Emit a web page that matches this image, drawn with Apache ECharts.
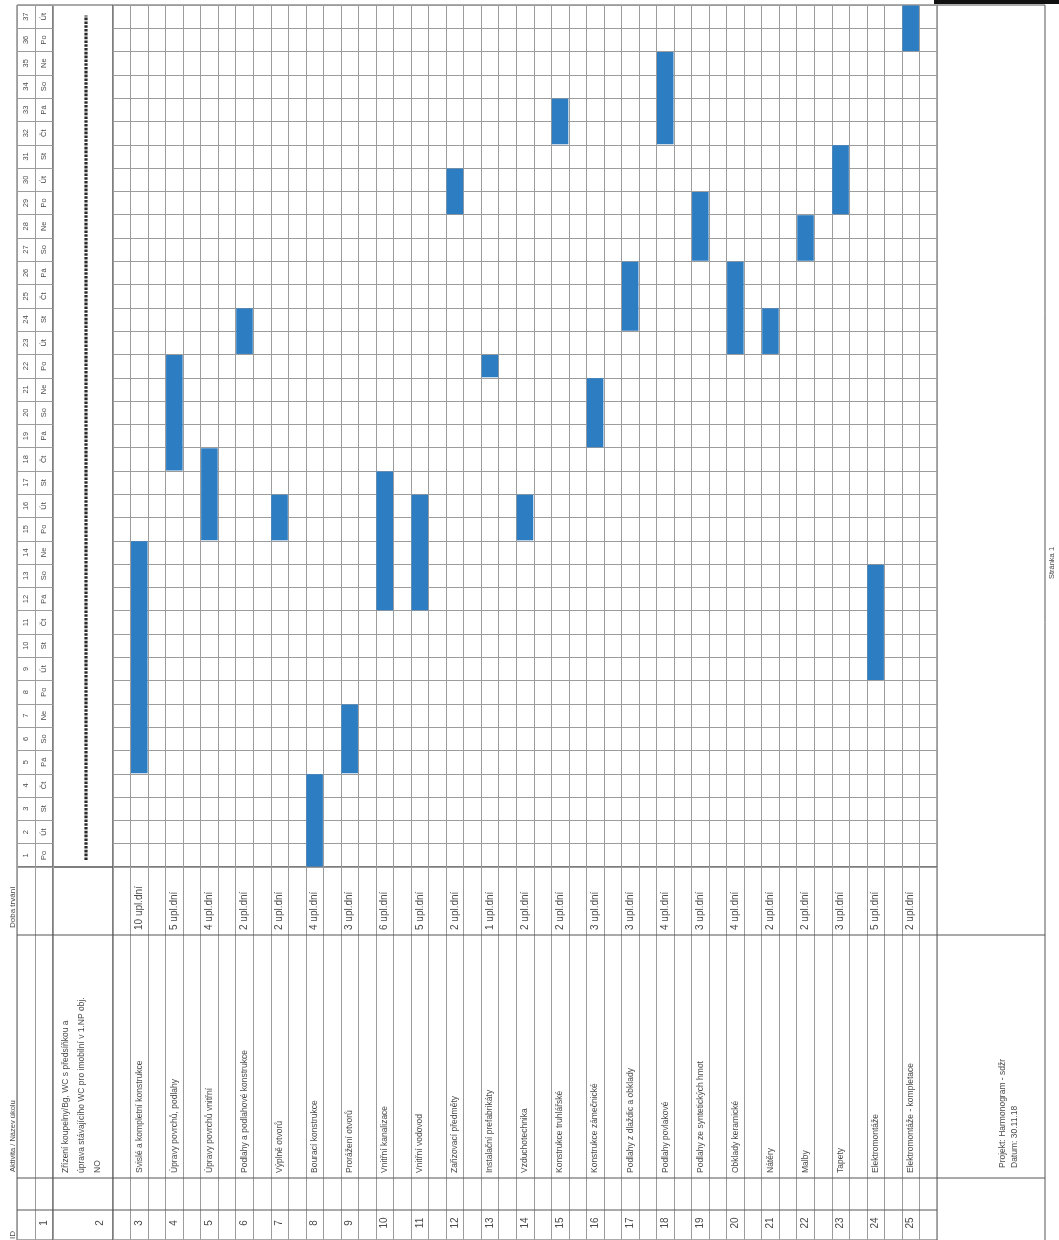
<!DOCTYPE html>
<html><head><meta charset="utf-8">
<script src="https://cdn.jsdelivr.net/npm/echarts@6/dist/echarts.min.js"></script>
<style>html,body{margin:0;padding:0;background:#fff}#c{width:1059px;height:1240px}</style>
</head><body><div id="c"></div>
<script>
// ---------- data ----------
const dayNumbers = ['1','2','3','4','5','6','7','8','9','10','11','12','13','14','15','16','17','18','19','20','21','22','23','24','25','26','27','28','29','30','31','32','33','34','35','36','37'];
const weekdays = ['Po','Út','St','Čt','Pá','So','Ne','Po','Út','St','Čt','Pá','So','Ne','Po','Út','St','Čt','Pá','So','Ne','Po','Út','St','Čt','Pá','So','Ne','Po','Út','St','Čt','Pá','So','Ne','Po','Út'];
const taskRows = [3,4,5,6,7,8,9,10,11,12,13,14,15,16,17,18,19,20,21,22,23,24,25];
const taskNames = ['Svislé a kompletní konstrukce','Úpravy povrchů, podlahy','Úpravy povrchů vnitřní','Podlahy a podlahové konstrukce','Výplně otvorů','Bourací konstrukce','Prorážení otvorů','Vnitřní kanalizace','Vnitřní vodovod','Zařizovací předměty','Instalační prefabrikáty','Vzduchotechnika','Konstrukce truhlářské','Konstrukce zámečnické','Podlahy z dlaždic a obklady','Podlahy povlakové','Podlahy ze syntetických hmot','Obklady keramické','Nátěry','Malby','Tapety','Elektromontáže','Elektromontáže - kompletace'];
const durations = ['10 upl.dní','5 upl.dní','4 upl.dní','2 upl.dní','2 upl.dní','4 upl.dní','3 upl.dní','6 upl.dní','5 upl.dní','2 upl.dní','1 upl.dní','2 upl.dní','2 upl.dní','3 upl.dní','3 upl.dní','4 upl.dní','3 upl.dní','4 upl.dní','2 upl.dní','2 upl.dní','3 upl.dní','5 upl.dní','2 upl.dní'];
const startDays = [5,18,15,23,15,1,5,12,12,29,22,15,32,19,24,32,27,23,23,27,29,9,36];
const endDays   = [14,22,18,24,16,4,7,17,16,30,22,16,33,21,26,35,29,26,24,28,31,13,37];
const summaryName = 'Zřízení koupelny/Bg, WC s předsíňkou a\núprava stávajícího WC pro imobilní v 1.NP obj.\nNO';
const summaryStart = 1, summaryEnd = 37;
const rowNumbers = ['1','2','3','4','5','6','7','8','9','10','11','12','13','14','15','16','17','18','19','20','21','22','23','24','25'];
const headerLabels = ['ID','Aktivita / Název úkolu','Doba trvání'];
const footerLines = ['Projekt: Harmonogram - sdžr','Datum: 30.11.18'];
const pageLabel = 'Stránka 1';

// ---------- layout ----------
const FONT = '"Liberation Sans", Arial, sans-serif';
const TXT = '#4a4a4a';
const GRIDC = '#9c9c9c';
const BORDER = '#555';
const BLUE = '#2d7dc3';
const top0 = 5, dayH = 862, lowTop = 867, lowH = 373;

function vAxis(gi, min, max, interval, split) {
  return {type:'value', gridIndex:gi, min:min, max:max, interval:interval,
    axisLine:{show:false}, axisTick:{show:false}, axisLabel:{show:false},
    splitLine:{show:split, lineStyle:{color:GRIDC, width:1}}};
}
const grids = [
  {left:113, top:top0, width:824, height:dayH},     // 0 main days
  {left:17,  top:top0, width:36,  height:dayH},     // 1 day header
  {left:53,  top:top0, width:60,  height:dayH},     // 2 summary row
  {left:113, top:lowTop, width:824, height:lowH},   // 3 lower rows
  {left:17,  top:lowTop, width:36,  height:lowH},   // 4 lower row 1
  {left:53,  top:lowTop, width:60,  height:lowH}    // 5 lower row 2
].map(g => Object.assign(g, {show:true, borderColor:BORDER, borderWidth:1, backgroundColor:'transparent'}));

const xAxes = [
  vAxis(0, 2.5, 26, 0.5, true),
  vAxis(1, 0, 2, 1, true),
  vAxis(2, 0, 1, 1, false),
  vAxis(3, 2.5, 26, 0.5, true),
  vAxis(4, 0, 2, 1, true),
  vAxis(5, 0, 1, 1, false)
];
const yAxes = [
  vAxis(0, 0, 37, 1, true),
  vAxis(1, 0, 37, 1, true),
  vAxis(2, 0, 37, 1, false),
  Object.assign(vAxis(3, 0, lowH, lowH, false), {inverse:true}),
  Object.assign(vAxis(4, 0, lowH, lowH, false), {inverse:true}),
  Object.assign(vAxis(5, 0, lowH, lowH, false), {inverse:true})
];

function textSeries(gi, data, texts, opts) {
  return {
    type:'custom', coordinateSystem:'cartesian2d', xAxisIndex:gi, yAxisIndex:gi,
    silent:true, clip:false, data:data, z:5,
    renderItem:function(params, api){
      const p = api.coord([api.value(0), api.value(1)]);
      return {type:'text', x:p[0], y:p[1], rotation:Math.PI/2,
        style:{text:texts[params.dataIndex], font:opts.font, fill:opts.fill || TXT,
          align:opts.align, textAlign:opts.align, verticalAlign:'middle', textVerticalAlign:'middle',
          lineHeight:opts.lineHeight || undefined}};
    }
  };
}

const series = [];
// bars
series.push({
  type:'custom', coordinateSystem:'cartesian2d', xAxisIndex:0, yAxisIndex:0, silent:true, z:3,
  data: taskRows.map((r,i)=>[r, startDays[i], endDays[i]]),
  renderItem:function(params, api){
    const a = api.coord([api.value(0), api.value(1)-1]);
    const b = api.coord([api.value(0)+0.5, api.value(2)]);
    return {type:'rect', shape:{x:a[0]+0.5, y:b[1]+0.5, width:b[0]-a[0]-1, height:a[1]-b[1]-1},
      style:{fill:BLUE}};
  }
});
// summary dashed line
series.push({
  type:'custom', coordinateSystem:'cartesian2d', xAxisIndex:2, yAxisIndex:2, silent:true, z:3,
  data:[[0.55, summaryStart, summaryEnd]],
  renderItem:function(params, api){
    const a = api.coord([api.value(0), api.value(1)-1+0.3]);
    const b = api.coord([api.value(0), api.value(2)-0.45]);
    return {type:'line', shape:{x1:a[0], y1:a[1], x2:b[0], y2:b[1]},
      style:{stroke:'#2a2a2a', lineWidth:3.2, lineDash:[2.6,1.2]}};
  }
});
// day header
series.push(textSeries(1, dayNumbers.map((d,i)=>[0.5, i+0.5]), dayNumbers, {font:'7.5px '+FONT, align:'center'}));
series.push(textSeries(1, weekdays.map((d,i)=>[1.5, i+0.5]), weekdays, {font:'7.5px '+FONT, align:'center'}));
// durations
series.push(textSeries(3, taskRows.map(r=>[r+0.25, 63]), durations, {font:'10px '+FONT, align:'left'}));
// names
series.push(textSeries(3, taskRows.map(r=>[r+0.25, 306]), taskNames, {font:'8.5px '+FONT, align:'left'}));
series.push(textSeries(5, [[0.47, 306]], [summaryName], {font:'8.5px '+FONT, align:'left', lineHeight:16}));
// row numbers
series.push(textSeries(3, taskRows.map(r=>[r+0.25, 356]), rowNumbers.slice(2), {font:'10px '+FONT, align:'center'}));
series.push(textSeries(4, [[1.5, 356]], [rowNumbers[0]], {font:'10px '+FONT, align:'center'}));
series.push(textSeries(5, [[0.78, 356]], [rowNumbers[1]], {font:'10px '+FONT, align:'center'}));

function hline(x1,x2,y){return {type:'line', silent:true, z:10, shape:{x1:x1,y1:y,x2:x2,y2:y}, style:{stroke:BORDER, lineWidth:1}};}
function vline(x,y1,y2){return {type:'line', silent:true, z:10, shape:{x1:x,y1:y1,x2:x,y2:y2}, style:{stroke:BORDER, lineWidth:1}};}
function rtext(x,y,t,size,align){return {type:'text', silent:true, z:10, x:x, y:y, rotation:Math.PI/2,
  style:{text:t, font:size+'px '+FONT, fill:TXT, textAlign:align, textVerticalAlign:'middle', align:align, verticalAlign:'middle'}};}

const graphic = [
  {type:'rect', silent:true, z:11, shape:{x:934, y:0, width:125, height:4}, style:{fill:'#111'}},
  hline(937, 1045, top0),
  vline(1045, top0, 1240),
  hline(17, 1045, 935),
  hline(17, 1045, 1178),
  hline(17, 937, 1210),
  rtext(13, 1239, headerLabels[0], 8, 'left'),
  rtext(13, 1172, headerLabels[1], 7.5, 'left'),
  rtext(13, 928, headerLabels[2], 8, 'left'),
  rtext(1003, 1168, footerLines[0], 8.5, 'left'),
  rtext(1015, 1168, footerLines[1], 8.5, 'left'),
  rtext(1052, 563, pageLabel, 7.5, 'center')
];

const chart = echarts.init(document.getElementById('c'), null, {renderer:'canvas'});
chart.setOption({
  animation:false,
  backgroundColor:'#fff',
  grid:grids, xAxis:xAxes, yAxis:yAxes, series:series, graphic:graphic
});
</script></body></html>
